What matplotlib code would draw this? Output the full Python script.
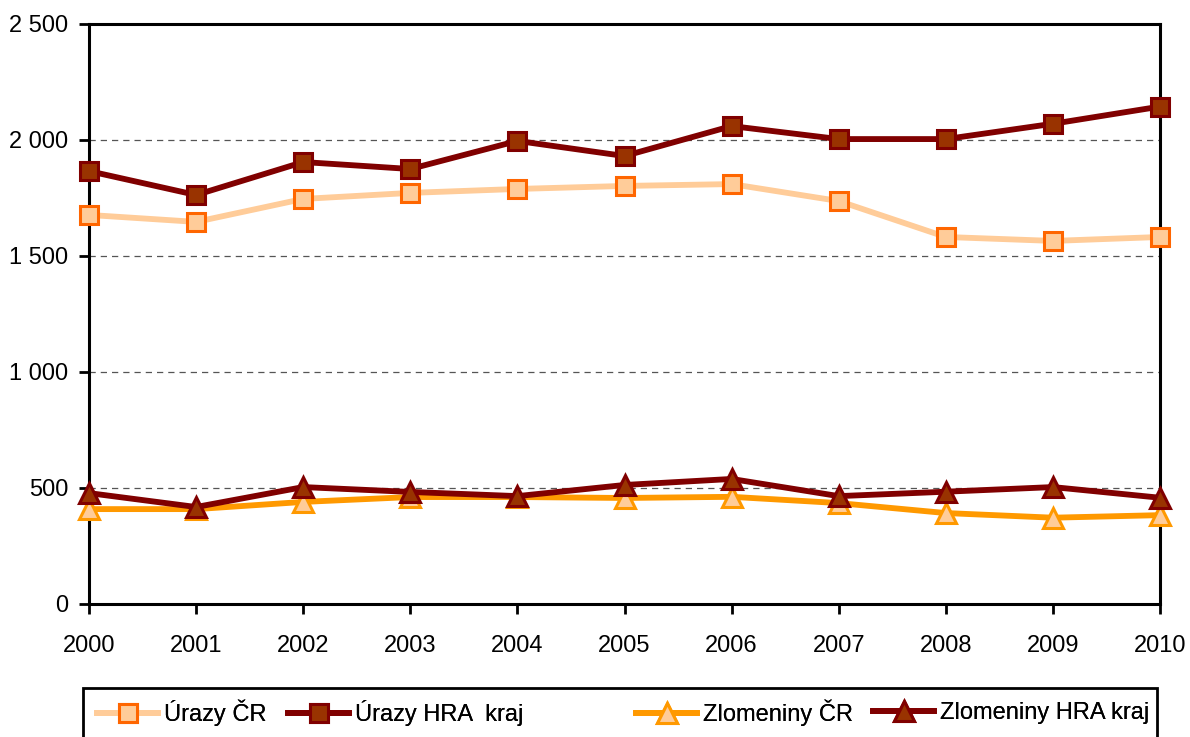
import matplotlib.pyplot as plt
from matplotlib.patches import Rectangle
from matplotlib.ticker import FuncFormatter

# values
years = [2000, 2001, 2002, 2003, 2004, 2005, 2006, 2007, 2008, 2009, 2010]
urazy_cr = [1677, 1647, 1746, 1772, 1789, 1802, 1810, 1737, 1582, 1565, 1582]
urazy_hra = [1866, 1763, 1905, 1875, 1996, 1931, 2060, 2004, 2004, 2070, 2144]
zlomeniny_cr = [409, 409, 440, 461, 461, 457, 462, 435, 392, 372, 383]
zlomeniny_hra = [478, 418, 504, 483, 465, 513, 539, 465, 484, 504, 458]
y_ticks = [0, 500, 1000, 1500, 2000, 2500]

plt.rcParams['font.family'] = ['Liberation Sans', 'DejaVu Sans']
plt.rcParams['font.size'] = 17

W, H = 1190, 737
fig = plt.figure(figsize=(W / 100, H / 100), dpi=100)
ax = fig.add_axes([89 / W, 133 / H, 1071 / W, 580 / H])

# series: label, values, line colour, marker, face, edge
series = [
    ("Úrazy ČR", urazy_cr, "#FFCC99", "s", "#FFCC99", "#FF6600"),
    ("Úrazy HRA  kraj", urazy_hra, "#800000", "s", "#993300", "#800000"),
    ("Zlomeniny ČR", zlomeniny_cr, "#FF9900", "^", "#FFCC99", "#FF9900"),
    ("Zlomeniny HRA kraj", zlomeniny_hra, "#800000", "^", "#993300", "#800000"),
]
lines = []
for label, vals, lc, mk, fc, ec in series:
    ln, = ax.plot(years, vals, color=lc, lw=4.2, marker=mk, ms=12.5 if mk == "s" else 15,
                  mfc=fc, mec=ec, mew=2.2, label=label, clip_on=False, zorder=3)
    lines.append(ln)

ax.set_xlim(2000, 2010)
ax.set_ylim(0, 2500)
ax.set_xticks(years)
ax.set_yticks(y_ticks)
ax.yaxis.set_major_formatter(FuncFormatter(lambda v, p: f"{int(v):,}".replace(",", " ")))
ax.grid(axis="y", color="#555555", ls=(0, (5, 4)), lw=0.9)
ax.tick_params(axis="y", length=7, width=2, pad=8)
ax.tick_params(axis="x", length=7, width=2, pad=15)
for s in ax.spines.values():
    s.set_linewidth(2.2)
    s.set_color("black")

# legend: frame running off the bottom edge, entries placed like the original
fig.add_artist(Rectangle((83 / W, -0.05), (1157 - 83) / W, 0.05 + 1 - 688 / H,
                         transform=fig.transFigure, fill=False, ec="black", lw=2))
legend_x = [97, 288, 636, 873]
for ln, x in zip(lines, legend_x):
    leg = fig.legend(handles=[ln], loc="center left", bbox_to_anchor=(x / W, 1 - 713 / H),
                     frameon=False, borderpad=0, borderaxespad=0,
                     handlelength=2.6, handletextpad=0.25)
    fig.add_artist(leg)

fig.savefig("out.png", dpi=100)
